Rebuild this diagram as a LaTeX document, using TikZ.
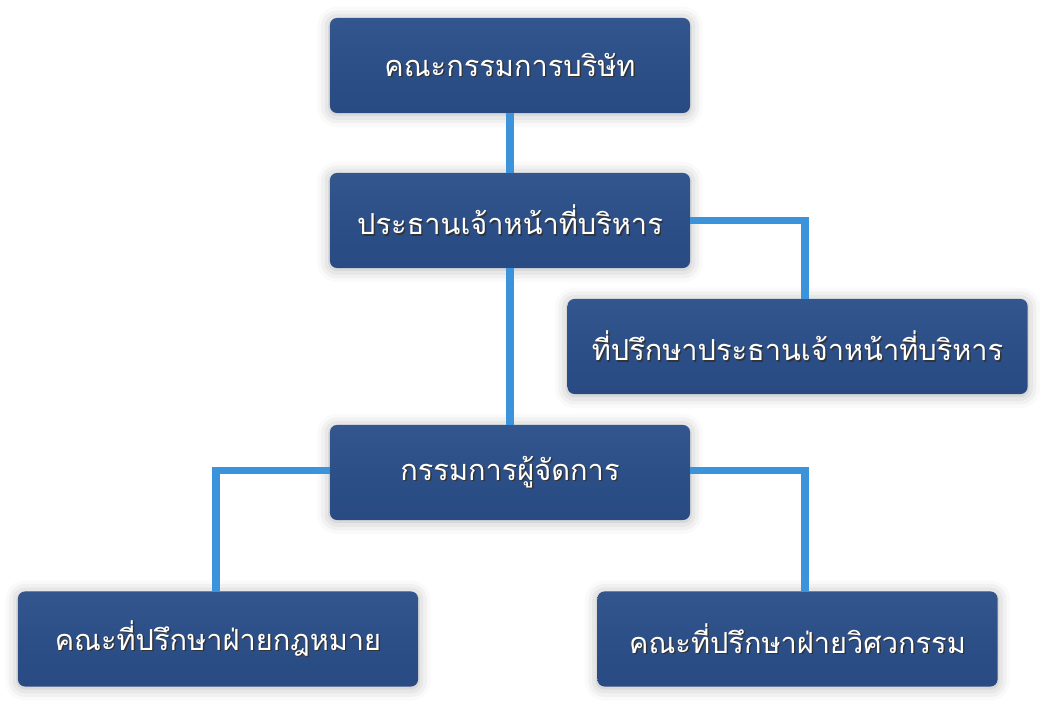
\documentclass[tikz,border=0pt]{standalone}
\usepackage{fontspec}
\newfontfamily\thaifont[Script=Thai]{Loma}
\usepackage{tikz}
\usetikzlibrary{positioning,calc,shadows.blur}
\definecolor{boxblue}{HTML}{2C4F88}
\definecolor{boxtop}{HTML}{33568F}
\definecolor{boxbot}{HTML}{294A82}
\definecolor{linkblue}{HTML}{3B93DB}
\newcommand{\shtext}[1]{\rlap{\kern1pt\raisebox{-1pt}{\color{black!80}#1}}#1}

\begin{document}
\begin{tikzpicture}[x=0.025cm, y=-0.025cm,
    orgbox/.style={rectangle, rounded corners=5pt, minimum height=2.375cm,
        top color=boxtop, bottom color=boxbot, middle color=boxblue,
        text=white, font=\thaifont\fontsize{20.6}{25}\selectfont,
        blur shadow={shadow xshift=0pt, shadow yshift=-1pt, shadow blur radius=9pt, shadow opacity=30}},
    link/.style={draw=linkblue, line width=5.4pt}]
    \useasboundingbox (0,0) rectangle (1046,705);

    % free ends of the elbow links
    \coordinate (advtop) at (805,299);
    \coordinate (engtop) at (805,591);
    \coordinate (lawtop) at (216,591);

    \node[orgbox, minimum width=9cm] (board) at (510,65.5) {\shtext{คณะกรรมการบริษัท}};
    \node[orgbox, minimum width=9cm] (ceo) at (510,220.5) {\shtext{ประธานเจ้าหน้าที่บริหาร}};
    \node[orgbox, minimum width=11.5cm] (adv) at (797.5,346.5) {\shtext{ที่ปรึกษาประธานเจ้าหน้าที่บริหาร}};
    \node[orgbox, minimum width=9cm] (md) at (510,472.5) {\shtext{กรรมการผู้จัดการ}};
    \node[orgbox, minimum width=10cm] (law) at (218,639) {\shtext{คณะที่ปรึกษาฝ่ายกฎหมาย}};
    \node[orgbox, minimum width=10cm] (eng) at (797.5,639) {\shtext{คณะที่ปรึกษาฝ่ายวิศวกรรม}};

    \draw[link] (board.south) -- (ceo.north);
    \draw[link] (ceo.south) -- (md.north);
    \draw[link] (ceo.east) -| (advtop);
    \draw[link] ([yshift=1.4pt]md.west) -| (lawtop);
    \draw[link] ([yshift=1.4pt]md.east) -| (engtop);
\end{tikzpicture}
\end{document}
